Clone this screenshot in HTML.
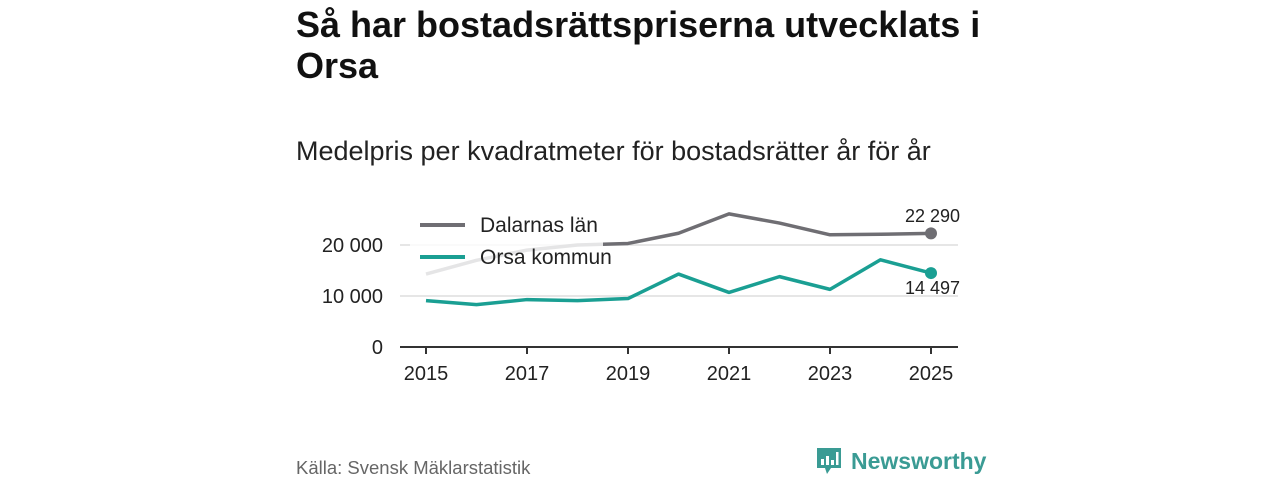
<!DOCTYPE html>
<html><head><meta charset="utf-8"><style>
body{margin:0;width:1280px;height:480px;background:#fff;font-family:"Liberation Sans","DejaVu Sans",sans-serif;overflow:hidden;position:relative}
h1{position:absolute;left:296px;top:4px;margin:0;font-size:36px;line-height:41px;font-weight:bold;color:#111;width:720px}
.sub{position:absolute;left:296px;top:136px;font-size:27px;color:#222}
.src{position:absolute;left:296px;top:457px;font-size:18.5px;color:#666}
.logo{position:absolute;left:815px;top:446px;display:flex;align-items:center;gap:8px;color:#3a9b94;font-size:23px;font-weight:bold}
svg text{font-family:"Liberation Sans","DejaVu Sans",sans-serif}
</style></head><body>
<h1>Så har bostadsrättspriserna utvecklats i Orsa</h1>
<div class="sub">Medelpris per kvadratmeter för bostadsrätter år för år</div>
<svg id="chart" width="1280" height="480" style="position:absolute;left:0;top:0"></svg>
<div class="src">Källa: Svensk Mäklarstatistik</div>
<div class="logo"><svg width="28" height="30" viewBox="0 0 28 30"><path d="M2 2h24v20H16l-4 6-2-6H2z" fill="#3a9b94"/><rect x="6" y="13" width="3" height="6" fill="#fff"/><rect x="11" y="10" width="3" height="9" fill="#fff"/><rect x="16" y="14" width="3" height="5" fill="#fff"/><rect x="21" y="6" width="2.5" height="13" fill="#fff"/></svg><span>Newsworthy</span></div>
<script>
const years=[2015,2016,2017,2018,2019,2020,2021,2022,2023,2024,2025];
const dalarna=[14300,17000,19000,20000,20300,22300,26100,24300,22000,22100,22290];
const orsa=[9100,8300,9300,9100,9500,14300,10700,13800,11300,17100,14497];
const yTicks=[0,10000,20000];
const xTicks=[2015,2017,2019,2021,2023,2025];
const X=y=>426+(y-2015)*50.5, Y=v=>347-v*0.0051;
const svg=document.getElementById('chart'),NS='http://www.w3.org/2000/svg';
function mk(t,a,txt){const e=document.createElementNS(NS,t);for(const k in a)e.setAttribute(k,a[k]);if(txt!=null)e.textContent=txt;svg.appendChild(e);return e;}
const fmt=v=>String(v).replace(/\B(?=(\d{3})+(?!\d))/g,' ');
yTicks.forEach(v=>{
 if(v>0){const g=mk('line',{x1:400,x2:958,y1:Y(v),y2:Y(v),stroke:'#ddd','stroke-width':1.5});
 
 }
 const t=mk('text',{x:383,y:Y(v)+7,'text-anchor':'end','font-size':20,fill:'#222'},fmt(v));
 
 
});
const ax=mk('line',{x1:400,x2:958,y1:347,y2:347,stroke:'#333','stroke-width':2});


xTicks.forEach(y=>{
 const tk=mk('line',{x1:X(y),x2:X(y),y1:347,y2:354,stroke:'#333','stroke-width':2});
 
 
 const t=mk('text',{x:X(y),y:380,'text-anchor':'middle','font-size':20,fill:'#222'},y);
 
 
});
function series(vals,col,name){
 const p=mk('polyline',{points:vals.map((v,i)=>X(years[i])+','+Y(v)).join(' '),fill:'none',stroke:col,'stroke-width':3.5,'stroke-linejoin':'round'});
 
 
 const n=vals.length-1;
 const c=mk('circle',{cx:X(years[n]),cy:Y(vals[n]),r:6,fill:col});
 
 
}
series(dalarna,'#6f6e73','dalarna');
series(orsa,'#1a9f93','orsa');
const lb=mk('rect',{x:410,y:205,width:193,height:74,fill:'#fff','fill-opacity':0.82});


[['Dalarnas län','#6f6e73',225],['Orsa kommun','#1a9f93',257]].forEach(([l,c,y])=>{
 const s=mk('line',{x1:420,x2:465,y1:y,y2:y,stroke:c,'stroke-width':4});
 
 
 const t=mk('text',{x:480,y:y+7,'font-size':21,fill:'#222'},l);
 
 
});
const l1=mk('text',{x:960,y:222,'text-anchor':'end','font-size':18,fill:'#222'},fmt(dalarna[10]));


const l2=mk('text',{x:960,y:294,'text-anchor':'end','font-size':18,fill:'#222'},fmt(orsa[10]));


</script>
</body></html>
